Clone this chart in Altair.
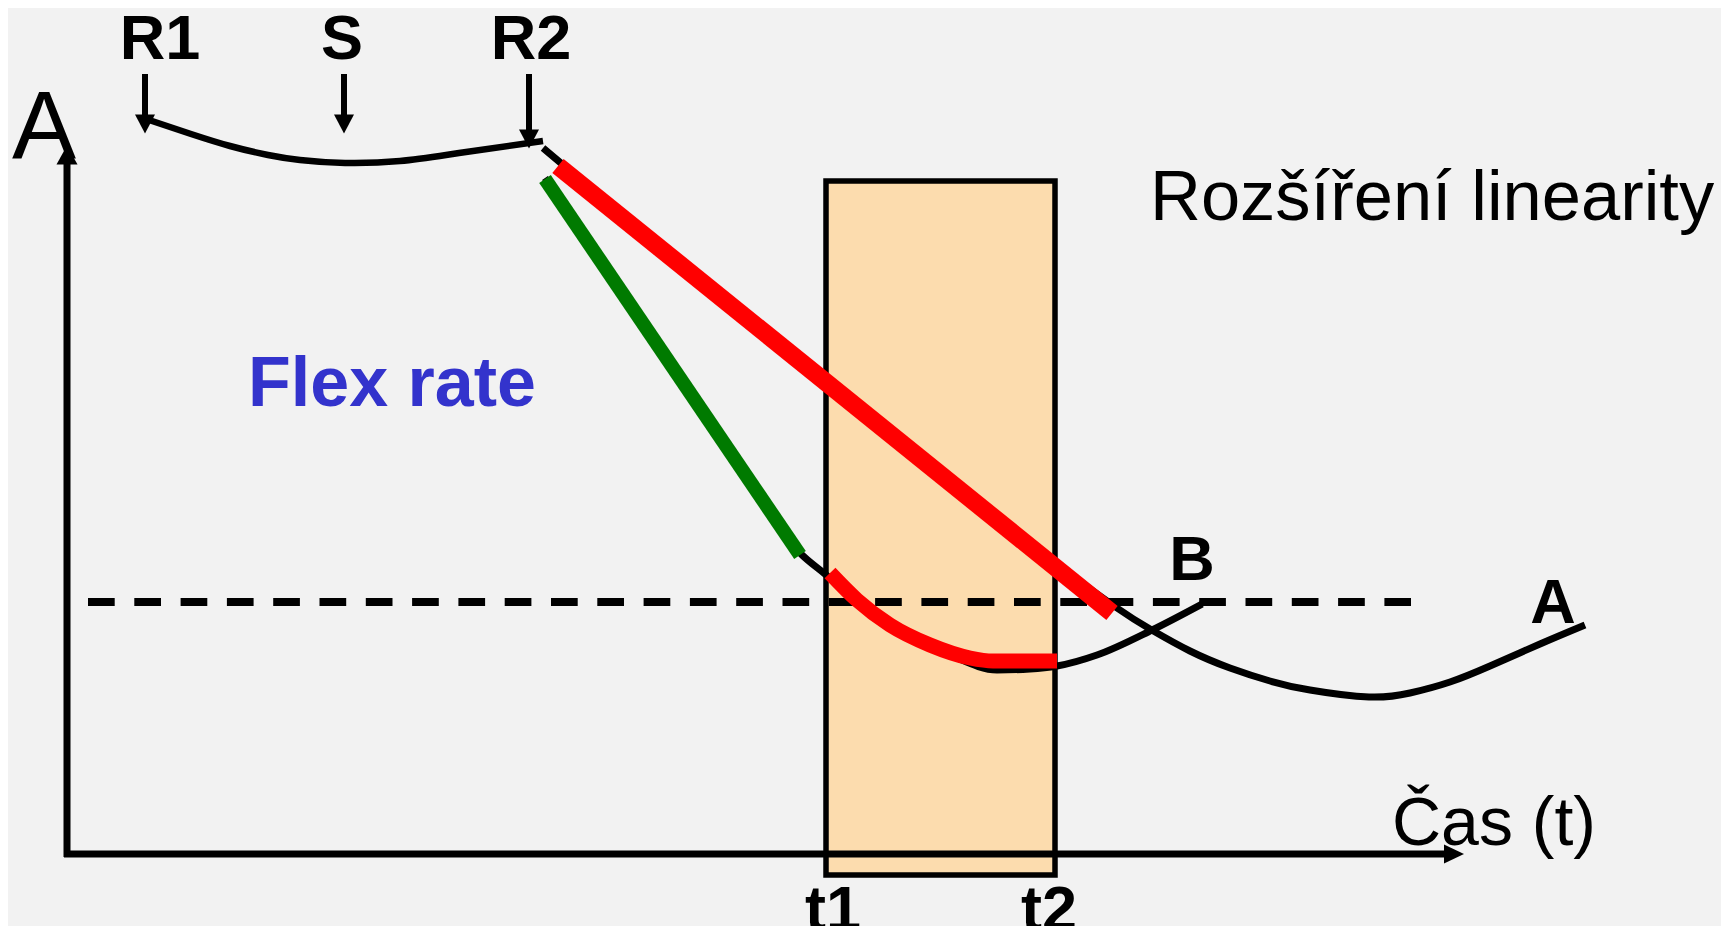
import altair as alt
import pandas as pd

# ---- data (picture pixels, y grows downward) ----
top_x = [149, 191, 230, 268, 300, 345, 400, 459, 543]
top_y = [120, 134, 146, 155, 160, 163, 161, 153, 141]

curve_a_x = [543, 600, 680, 760, 830, 920, 1000, 1060, 1117, 1150, 1190, 1230, 1270, 1310,
             1369, 1410, 1450, 1490, 1540, 1585]
curve_a_y = [148, 196, 264, 332, 391, 462, 523, 567, 608, 629, 651, 668, 681, 690,
             697, 693, 682, 666, 644, 625]

curve_b_x = [545, 600, 650, 700, 750, 800, 825, 860, 900, 950, 997, 1030, 1057, 1097, 1152, 1202]
curve_b_y = [178, 260, 336, 411, 484, 553, 574, 603, 630, 655, 670, 669, 666, 655, 630, 604]

green_x = [545, 800]
green_y = [179, 555]

red_lin_x = [558, 1112]
red_lin_y = [166, 613]

red_cur_x = [830, 857, 890, 930, 970, 993, 1057]
red_cur_y = [573, 600, 625, 645, 658, 661, 661]

dash_x = [88, 1411]
dash_y = [602, 602]

yaxis_x = [67, 67]
yaxis_y = [163, 857]
xaxis_x = [64, 1447]
xaxis_y = [854, 854]

stem_x = [145, 344, 529]
stem_y1 = [74, 74, 74]
stem_y2 = [118, 118, 133]
head_down_y = [124, 124, 139]

box_x = [826]
box_x2 = [1055]
box_y = [181]
box_y2 = [875]

bold_labels = ["R1", "S", "R2", "B", "A", "t1", "t2"]
bold_x = [160, 342, 531, 1192, 1553, 833, 1049]
bold_y = [59, 59, 59, 580, 623, 930, 930]

# ---- chart ----
W, H = 1713, 918
FONT = "Liberation Sans, Arial, Helvetica, sans-serif"
XS = alt.Scale(domain=[8, 8 + W], nice=False, zero=False)
YS = alt.Scale(domain=[8, 8 + H], nice=False, zero=False, reverse=True)


def X(f="x"):
    return alt.X(f"{f}:Q", scale=XS, axis=None)


def Y(f="y"):
    return alt.Y(f"{f}:Q", scale=YS, axis=None)


def line(xs, ys, color, width, interp="linear", dash=None):
    df = pd.DataFrame({"x": xs, "y": ys, "i": list(range(len(xs)))})
    kw = dict(color=color, strokeWidth=width, interpolate=interp, strokeCap="butt")
    if dash:
        kw["strokeDash"] = dash
    return alt.Chart(df).mark_line(**kw).encode(x=X(), y=Y(), order="i:Q")


def heads(xs, ys, path, size):
    df = pd.DataFrame({"x": xs, "y": ys})
    return alt.Chart(df).mark_point(
        shape=path, size=size, filled=True, color="black", opacity=1, strokeWidth=0
    ).encode(x=X(), y=Y())


def texts(labels, xs, ys, size, weight, color="black", align="center"):
    df = pd.DataFrame({"t": labels, "x": xs, "y": ys})
    return alt.Chart(df).mark_text(
        font=FONT, fontSize=size, fontWeight=weight, color=color,
        align=align, baseline="alphabetic"
    ).encode(x=X(), y=Y(), text="t:N")


box = alt.Chart(pd.DataFrame({"x": box_x, "x2": box_x2, "y": box_y, "y2": box_y2})).mark_rect(
    fill="#fcdcae", stroke="black", strokeWidth=5.5
).encode(x=X(), x2="x2:Q", y=Y(), y2="y2:Q")

stems = alt.Chart(pd.DataFrame({"x": stem_x, "y": stem_y1, "y2": stem_y2})).mark_rule(
    color="black", strokeWidth=6
).encode(x=X(), y=Y(), y2="y2:Q")

layers = [
    box,
    line(dash_x, dash_y, "black", 8, dash=[26.7, 19.6]),
    line(yaxis_x, yaxis_y, "black", 7),
    line(xaxis_x, xaxis_y, "black", 7),
    line(top_x, top_y, "black", 6.5, "natural"),
    line(curve_a_x, curve_a_y, "black", 7, "natural"),
    line(curve_b_x, curve_b_y, "black", 7, "monotone"),
    line(green_x, green_y, "#007a00", 14),
    line(red_lin_x, red_lin_y, "#ff0000", 18),
    line(red_cur_x, red_cur_y, "#ff0000", 15, "monotone"),
    stems,
    heads(stem_x, head_down_y, "M-1,-0.95L1,-0.95L0,0.95Z", 400),
    heads([67], [155], "M0,-0.9L1,0.9L-1,0.9Z", 441),
    heads([1454], [854], "M-1,-0.95L1,0L-1,0.95Z", 400),
    texts(bold_labels, bold_x, bold_y, 63, "bold"),
    texts(["A"], [44], [158], 96, "normal"),
    texts(["Čas (t)"], [1392], [845], 68, "normal", align="left"),
    texts(["Rozšíření linearity"], [1150], [220], 70.5, "normal", align="left"),
    texts(["Flex rate"], [248], [406], 70, "bold", color="#3333cc", align="left"),
]

chart = alt.layer(*layers).properties(
    width=W, height=H, padding=0, background="#f2f2f2",
    autosize=alt.AutoSizeParams(type="none")
).configure_view(stroke=None)

chart.save("out.html", embed_options={"renderer": "svg", "actions": False})
